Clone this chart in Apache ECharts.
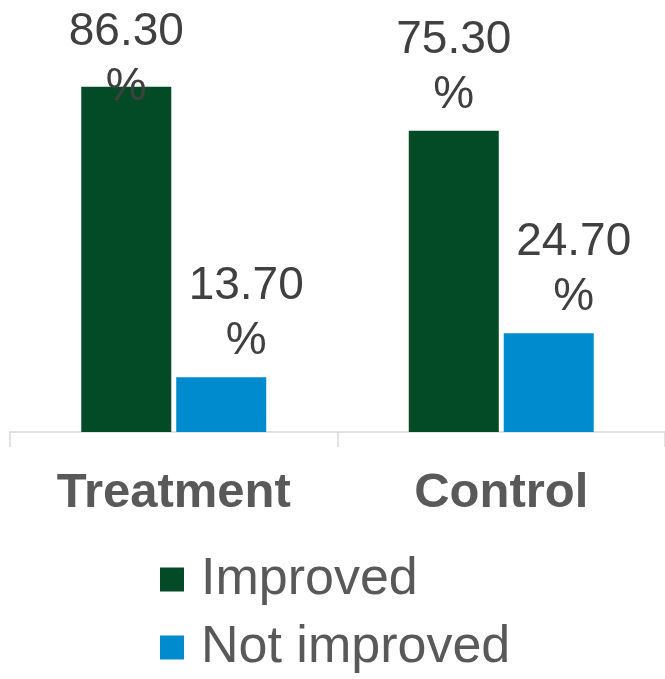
<!DOCTYPE html>
<html>
<head>
<meta charset="utf-8">
<script src="https://cdn.jsdelivr.net/npm/echarts@6/dist/echarts.min.js"></script>
<style>html,body{margin:0;padding:0;background:#fff;}#c{width:665px;height:679px;}</style>
</head>
<body>
<div id="c"></div>
<script>
var categories = ['Treatment', 'Control'];
var seriesNames = ['Improved', 'Not improved'];
var improved = [86.3, 75.3];
var notImproved = [13.7, 24.7];

var FONT = '"Liberation Sans", Arial, sans-serif';
var chart = echarts.init(document.getElementById('c'));

function fmt(p) { return p.value.toFixed(2) + '\n%'; }

var labelBase = {
  show: true, position: 'top', distance: 8, formatter: fmt,
  fontFamily: FONT, fontSize: 46, lineHeight: 55, color: '#404040'
};

var legendText = { fontFamily: FONT, fontSize: 52, color: '#595959', lineHeight: 55, padding: [0, 0, 0, 12] };

chart.setOption({
  animation: false,
  grid: { left: 10, right: -6, top: 32, bottom: 247, containLabel: false },
  legend: [
    { orient: 'vertical', left: 155, top: 547, itemWidth: 24, itemHeight: 24, icon: 'rect',
      data: [seriesNames[0]], textStyle: legendText },
    { orient: 'vertical', left: 155, top: 615, itemWidth: 24, itemHeight: 24, icon: 'rect',
      data: [seriesNames[1]], textStyle: legendText }
  ],
  xAxis: {
    type: 'category', data: categories,
    axisLine: { lineStyle: { color: '#d9d9d9', width: 1.5 } },
    axisTick: { show: true, length: 15, lineStyle: { color: '#d9d9d9', width: 1.5 } },
    axisLabel: { margin: 37, fontFamily: FONT, fontSize: 49, fontWeight: 'bold', color: '#595959' }
  },
  yAxis: { type: 'value', min: 0, max: 100, show: false, splitLine: { show: false } },
  series: [
    {
      name: seriesNames[0], type: 'bar', barWidth: 90, barGap: '5.5%',
      itemStyle: { color: '#034A26' },
      label: labelBase,
      data: improved.map(function (v, i) {
        return i === 0 ? { value: v, label: { offset: [0, 36] } } : v;
      })
    },
    {
      name: seriesNames[1], type: 'bar', barWidth: 90,
      itemStyle: { color: '#008BCE' },
      label: Object.assign({}, labelBase, { offset: [25, 0] }),
      data: notImproved
    }
  ]
});
</script>
</body>
</html>
